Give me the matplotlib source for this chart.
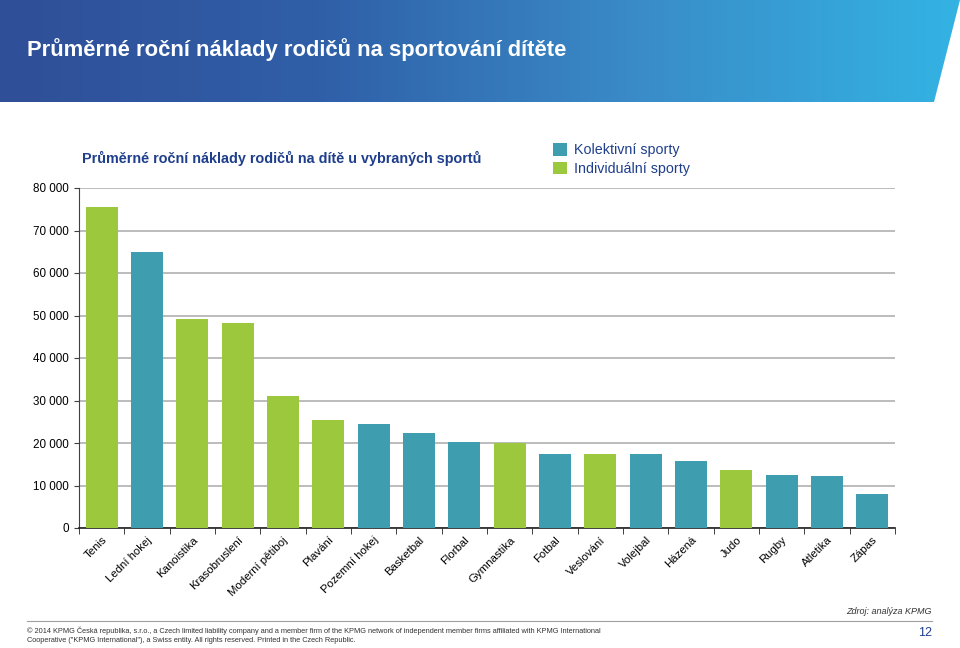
import numpy as np
import matplotlib
matplotlib.use('Agg')
import matplotlib.pyplot as plt
from matplotlib.patches import Polygon, Patch
from matplotlib.ticker import FuncFormatter
from matplotlib.colors import LinearSegmentedColormap

plt.rcParams['font.family'] = ['Liberation Sans', 'DejaVu Sans']

# data
sports = ['Tenis', 'Lední hokej', 'Kanoistika', 'Krasobruslení', 'Moderní pětiboj',
          'Plavání', 'Pozemní hokej', 'Basketbal', 'Florbal', 'Gymnastika', 'Fotbal',
          'Veslování', 'Volejbal', 'Házená', 'Judo', 'Rugby', 'Atletika', 'Zápas']
costs = [75500, 65000, 49200, 48200, 31000, 25400, 24500, 22400, 20200, 20000,
         17400, 17400, 17400, 15800, 13600, 12500, 12200, 8000]
kinds = ['I', 'K', 'I', 'I', 'I', 'I', 'K', 'K', 'K', 'I', 'K', 'I', 'K', 'K', 'I',
         'K', 'K', 'K']
legend_labels = ['Kolektivní sporty', 'Individuální sporty']

teal = '#3f9db0'
green = '#9bc83c'
navy = '#1f3f8c'

fig = plt.figure(figsize=(9.6, 6.48), dpi=100)

# header banner with gradient and slanted right edge
bg = fig.add_axes([0, 0, 1, 1], zorder=0)
bg.set_xlim(0, 960)
bg.set_ylim(648, 0)
bg.axis('off')
grad = np.linspace(0, 1, 256).reshape(1, -1)
cmap = LinearSegmentedColormap.from_list('kpmg', ['#2f4f98', '#2f5fa8', '#3a8cc8', '#33b3e3'])
im = bg.imshow(grad, extent=[0, 960, 102, 0], aspect='auto', cmap=cmap)
clip = Polygon([[0, 0], [960, 0], [934, 102], [0, 102]], closed=True,
               transform=bg.transData, facecolor='none', edgecolor='none')
bg.add_patch(clip)
im.set_clip_path(clip)
bg.text(27, 50, 'Průměrné roční náklady rodičů na sportování dítěte', color='white',
        fontsize=15.8, fontweight='bold', va='center', ha='left')

# footer
bg.plot([27, 932], [621, 621], color='#a0a0a0', lw=0.8)
bg.text(932, 612, 'Zdroj: analýza KPMG', fontsize=6.5, style='italic', color='#333333',
        ha='right', va='center')
bg.text(27, 631, '© 2014 KPMG Česká republika, s.r.o., a Czech limited liability company and a '
        'member firm of the KPMG network of independent member firms affiliated with KPMG International',
        fontsize=5.3, color='#333333', ha='left', va='center')
bg.text(27, 640, 'Cooperative ("KPMG International"), a Swiss entity. All rights reserved. '
        'Printed in the Czech Republic.', fontsize=5.3, color='#333333', ha='left', va='center')
bg.text(932, 633, '12', fontsize=9, color='#1f3f8c', ha='right', va='center')

# chart
ax = fig.add_axes([79 / 960, 1 - 528 / 648, 816 / 960, 340 / 648], zorder=1)
ax.patch.set_alpha(0)
x = np.arange(len(sports))
colors = [teal if k == 'K' else green for k in kinds]
ax.bar(x, costs, width=0.71, color=colors, zorder=3)
ax.set_xlim(-0.5, len(sports) - 0.5)
ax.set_ylim(0, 80000)
ax.set_yticks(np.arange(0, 80001, 10000))
ax.yaxis.set_major_formatter(FuncFormatter(lambda v, p: '{:,.0f}'.format(v).replace(',', ' ')))
ax.grid(axis='y', color='#b0b0b0', lw=1.2, zorder=0)
for s in ['top', 'right']:
    ax.spines[s].set_visible(False)
ax.spines['left'].set_color('#404040')
ax.spines['bottom'].set_color('#202020')
ax.spines['bottom'].set_linewidth(1.2)
ax.tick_params(axis='y', labelsize=8.4, length=3.6, color='#404040', pad=3.6)
ax.set_xticks(x)
ax.set_xticklabels(sports, rotation=45, ha='right', va='top', rotation_mode='anchor', fontsize=8.2)
ax.tick_params(axis='x', which='major', length=0, pad=5)
ax.set_xticks(np.arange(-0.5, len(sports)), minor=True)
ax.tick_params(axis='x', which='minor', length=4, color='#202020')

fig.text(82 / 960, 1 - 158 / 648, 'Průměrné roční náklady rodičů na dítě u vybraných sportů',
         color=navy, fontsize=10.4, fontweight='bold', ha='left', va='center')
handles = [Patch(facecolor=teal), Patch(facecolor=green)]
leg = fig.legend(handles, legend_labels, loc='upper left',
                 bbox_to_anchor=(553 / 960, 1 - 143 / 648), frameon=False, fontsize=10.3,
                 handlelength=1.0, handleheight=1.0, handletextpad=0.5, labelspacing=0.3,
                 borderpad=0, borderaxespad=0)
for t in leg.get_texts():
    t.set_color(navy)

fig.savefig('out.png', dpi=100)
